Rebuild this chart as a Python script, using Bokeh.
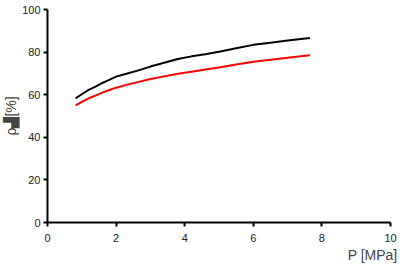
from bokeh.plotting import figure
from bokeh.models import Range1d, Title
from bokeh.embed import file_html
from bokeh.resources import INLINE

# data
p_mpa = [0.82, 1.0, 1.2, 1.4, 1.6, 1.8, 2.0, 2.3, 2.6, 3.0, 3.4, 3.8, 4.2, 4.6, 5.0, 5.5, 6.0, 6.5, 7.0, 7.65]
rho_black = [58.3, 60.2, 62.3, 63.8, 65.5, 67.0, 68.5, 69.8, 71.2, 73.2, 75.0, 76.8, 78.0, 79.0, 80.2, 81.8, 83.4, 84.4, 85.4, 86.6]
rho_red = [55.0, 56.6, 58.3, 59.6, 61.0, 62.2, 63.3, 64.6, 65.8, 67.4, 68.6, 69.8, 70.8, 71.8, 72.8, 74.2, 75.5, 76.4, 77.3, 78.5]
x_ticks = [0, 2, 4, 6, 8, 10]
y_ticks = [0, 20, 40, 60, 80, 100]

FONT = "Liberation Sans"

p = figure(width=400, height=272, output_backend="svg", toolbar_location=None,
           x_range=Range1d(0, 10), y_range=Range1d(0, 100),
           min_border_left=40, min_border_right=10, min_border_top=9, min_border_bottom=50)
p.outline_line_color = None
p.grid.visible = False

p.line(p_mpa, rho_black, line_color="black", line_width=2)
p.line(p_mpa, rho_red, line_color="red", line_width=2)

for ax in (p.xaxis, p.yaxis):
    ax.axis_line_width = 2
    ax.axis_line_color = "black"
    ax.major_tick_line_width = 2
    ax.major_tick_out = 4
    ax.major_tick_in = 0
    ax.minor_tick_line_color = None
    ax.major_label_text_font = FONT
    ax.major_label_text_font_size = "11px"
    ax.major_label_text_color = "#222222"

p.xaxis.ticker = x_ticks
p.yaxis.ticker = y_ticks
p.xaxis.major_label_standoff = 7
p.yaxis.major_label_standoff = 3

p.yaxis.axis_label = "ρ▟[%]"
p.yaxis.axis_label_text_font = FONT
p.yaxis.axis_label_text_font_size = "14px"
p.yaxis.axis_label_text_font_style = "normal"
p.yaxis.axis_label_standoff = 0

t = Title(text="P [MPa]", align="right", text_font=FONT, text_font_size="14px",
          text_font_style="normal", offset=-7, standoff=0)
p.add_layout(t, "below")

open("out.html", "w").write(file_html(p, INLINE))
